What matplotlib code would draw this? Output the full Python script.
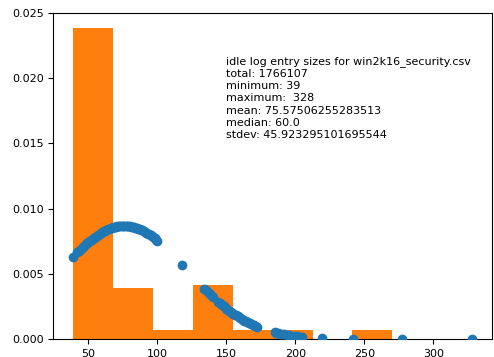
import numpy as np
import matplotlib
matplotlib.use("Agg")
import matplotlib.pyplot as plt

# idle log entry sizes (bytes) seen in win2k16_security.csv
sizes = [39] + list(range(42, 101)) + [118] + list(range(134, 141)) + list(range(144, 173)) + \
        [185, 186, 187, 189, 190, 192, 194, 195, 197, 199, 201, 203, 205, 219, 242, 277, 328]

# normal pdf at each size
pdf = [0.006326, 0.006650, 0.006755, 0.006858, 0.006960, 0.007060, 0.007158, 0.007254, 0.007348, 0.007439,
       0.007528, 0.007615, 0.007698, 0.007779, 0.007858, 0.007933, 0.008005, 0.008074, 0.008139, 0.008202,
       0.008260, 0.008316, 0.008367, 0.008416, 0.008460, 0.008500, 0.008537, 0.008570, 0.008599, 0.008623,
       0.008644, 0.008661, 0.008673, 0.008682, 0.008686, 0.008687, 0.008683, 0.008675, 0.008663, 0.008647,
       0.008627, 0.008603, 0.008574, 0.008542, 0.008506, 0.008466, 0.008422, 0.008375, 0.008324, 0.008269,
       0.008211, 0.008149, 0.008084, 0.008015, 0.007944, 0.007869, 0.007791, 0.007711, 0.007627, 0.007541,
       0.005670,
       0.003867, 0.003761, 0.003655, 0.003551, 0.003449, 0.003347, 0.003247,
       0.002863, 0.002771, 0.002680, 0.002592, 0.002505, 0.002420, 0.002336, 0.002255, 0.002175, 0.002097,
       0.002021, 0.001947, 0.001874, 0.001804, 0.001735, 0.001668, 0.001603, 0.001540, 0.001478, 0.001419,
       0.001361, 0.001305, 0.001250, 0.001197, 0.001146, 0.001097, 0.001049, 0.001003, 0.000958,
       0.000508, 0.000482, 0.000458, 0.000411, 0.000390, 0.000349, 0.000313, 0.000295, 0.000263, 0.000235,
       0.000208, 0.000185, 0.000164, 0.000066, 0.000012, 0.000001, 0.000000]

# histogram (density) over 10 bins from min to max
bin_edges = [39.0, 67.9, 96.8, 125.7, 154.6, 183.5, 212.4, 241.3, 270.2, 299.1, 328.0]
bin_density = [0.02387, 0.00389, 0.00069, 0.00414, 0.00069, 0.00069, 0.00002, 0.00069, 0.00002, 0.00002]

stats = ["idle log entry sizes for win2k16_security.csv",
         "total: 1766107",
         "minimum: 39",
         "maximum:  328",
         "mean: 75.57506255283513",
         "median: 60.0",
         "stdev: 45.923295101695544"]

plt.rcParams['font.size'] = 8
fig = plt.figure(figsize=(4.94, 3.57), dpi=100)
ax = fig.add_axes([0.108, 0.0504, 0.888, 0.9132])

ax.scatter(sizes, pdf, s=36, color='#1f77b4', zorder=3)
ax.hist(bin_edges[:-1], bins=bin_edges, weights=bin_density, color='#ff7f0e', zorder=1)
ax.text(150, 0.0154, "\n".join(stats), linespacing=1.28)

ax.set_ylim(0, 0.025)
ax.set_yticks([0, 0.005, 0.01, 0.015, 0.02, 0.025])
ax.set_yticklabels(["0.000", "0.005", "0.010", "0.015", "0.020", "0.025"])
ax.set_xticks([50, 100, 150, 200, 250, 300])

fig.savefig("out.png", dpi=100)
